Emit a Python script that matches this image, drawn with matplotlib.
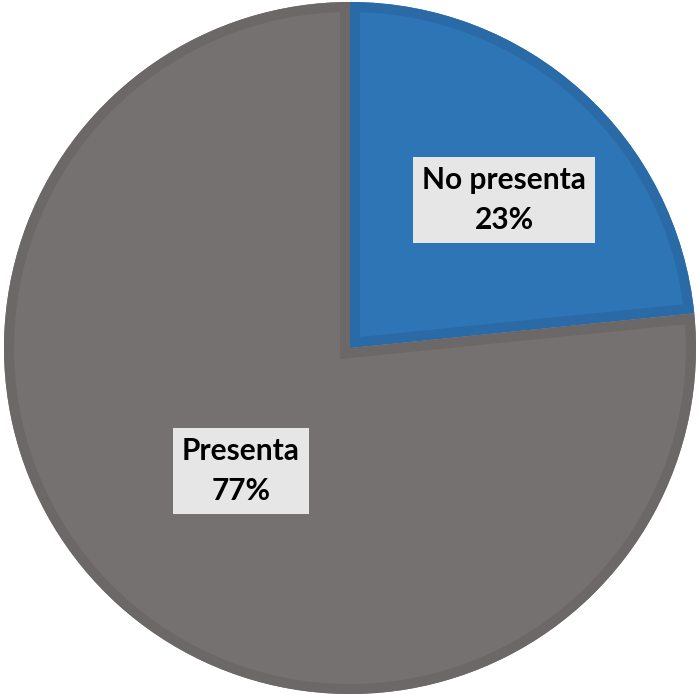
import matplotlib
matplotlib.use("Agg")
import matplotlib.pyplot as plt
from matplotlib.patches import Wedge

# ── datos ─────────────────────────────────────────────────────────────────────
categorias = ["No presenta", "Presenta"]
valores    = [23.4, 76.6]

COLORES = {
    "No presenta": ("#2e75b6", "#2a6aa6"),   # relleno, borde interior
    "Presenta":    ("#767171", "#6c6867"),
}

# posiciones de las etiquetas (px, origen abajo-izquierda)
POS_ETIQUETA = {
    "No presenta": (504, 494),
    "Presenta":    (241, 223),
}

W, H = 698, 694
CENTRO = (350, 346)
RADIO = 346

fig = plt.figure(figsize=(W / 100, H / 100), dpi=100)
ax = fig.add_axes([0, 0, 1, 1])

wedges, _ = ax.pie(valores, colors=[COLORES[c][0] for c in categorias],
                   startangle=90, counterclock=False,
                   center=CENTRO, radius=RADIO,
                   wedgeprops=dict(linewidth=0))

# borde interior más oscuro (trazo recortado al propio sector)
for w, cat in zip(wedges, categorias):
    borde = Wedge(w.center, w.r, w.theta1, w.theta2,
                  facecolor="none", edgecolor=COLORES[cat][1], linewidth=14.4)
    ax.add_patch(borde)
    borde.set_clip_path(w)

total = sum(valores)
for cat, v in zip(categorias, valores):
    x, y = POS_ETIQUETA[cat]
    ax.text(x, y, f"{cat}\n{round(100 * v / total)}%", ha="center", va="center",
            fontsize=21.5, fontweight="bold", family=["Lato", "DejaVu Sans"],
            color="black", linespacing=1.5,
            bbox=dict(boxstyle="square,pad=0.3", facecolor="#e7e6e6", edgecolor="none"))

ax.set_xlim(0, W)
ax.set_ylim(0, H)
ax.set_aspect("equal")
ax.axis("off")

fig.savefig("out.png", dpi=100)
